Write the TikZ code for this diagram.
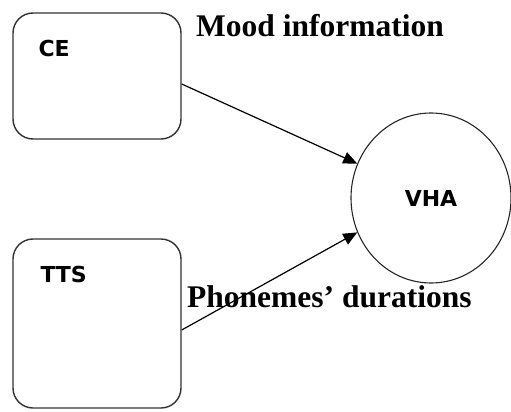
\documentclass[tikz,border=0pt]{standalone}
\usepackage{fontspec}
\setmainfont{Liberation Serif}
\newfontfamily\boxfont{DejaVu Sans}
\usetikzlibrary{arrows.meta,shapes.geometric}

\begin{document}
\begin{tikzpicture}[
			x = 1pt, y = -1pt,
			module/.style = {draw=black!80, line width=1.4pt, rounded corners=20pt, minimum width=168pt},
			agent/.style = {ellipse, draw=black!85, line width=1.1pt, minimum width=160pt, minimum height=170pt},
			boxtext/.style = {inner sep=0pt, font=\boxfont\bfseries\fontsize{22}{25}\selectfont},
			flowtext/.style = {inner sep=0pt, font=\bfseries\fontsize{31.5}{36}\selectfont},
			flow/.style = {line width=1.2pt, -{Triangle[length=14pt,width=12pt]}}
			]

			\useasboundingbox (0,0) rectangle (511,412);

			\node[module, minimum height=126pt] (ce) at (97,76) {};
			\node[module, minimum height=169pt] (tts) at (97,323.5) {};
			\node[agent] (vha) at (431,198) {};

			\node[boxtext, anchor=base west] (celabel) at ([xshift=26pt,yshift=-44pt]ce.north west) {CE};
			\node[boxtext, anchor=base west] (ttslabel) at ([xshift=28pt,yshift=-44pt]tts.north west) {TTS};
			\node[boxtext] (vhalabel) at (vha) {VHA};

			\draw[flow] ([yshift=-8pt]ce.east) -- (vha.155);
			\draw[flow] ([yshift=-6.5pt]tts.east) -- (vha.205);

			\node[flowtext, anchor=base west] (mood) at (196,37) {Mood information};
			\node[flowtext, anchor=base west] (phon) at (187,307) {Phonemes’ durations};

		\end{tikzpicture}
\end{document}
